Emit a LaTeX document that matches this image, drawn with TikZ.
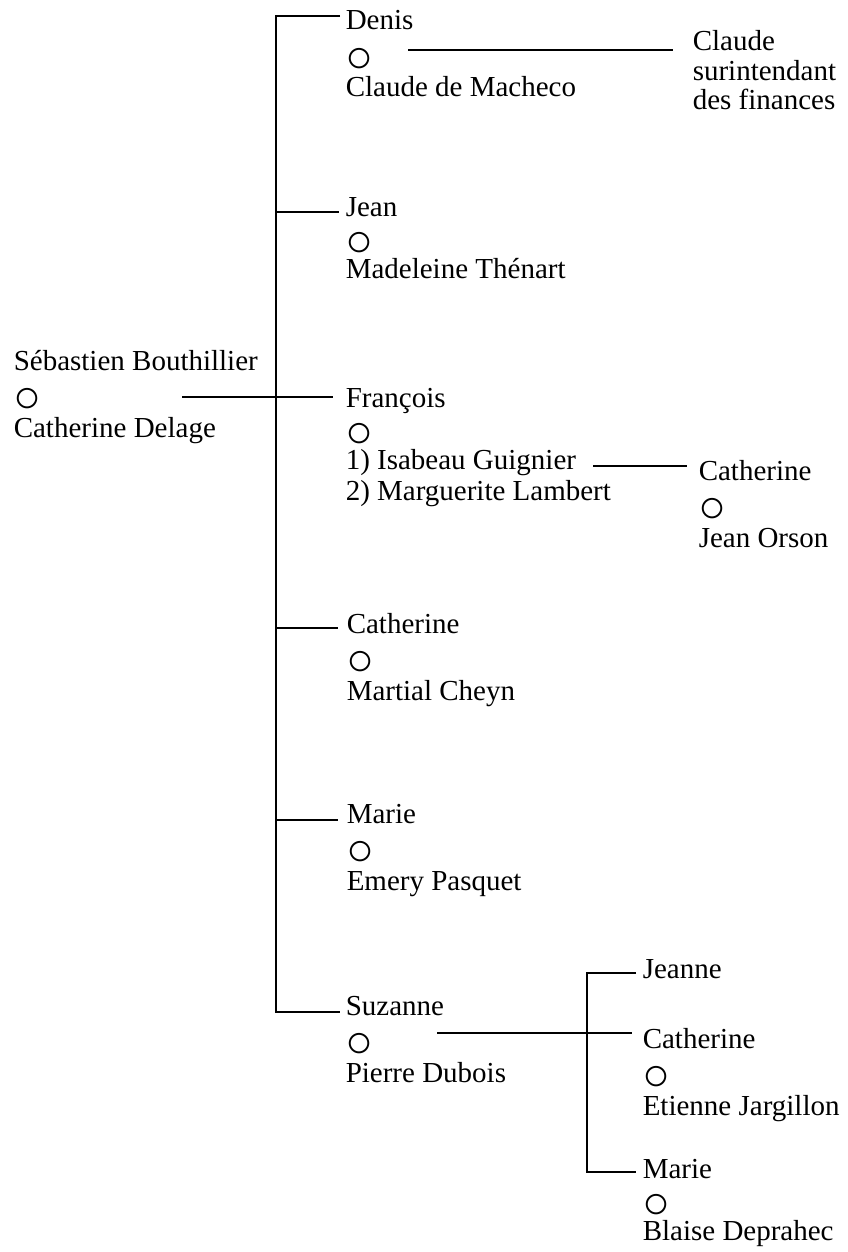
\documentclass[tikz,border=0pt]{standalone}
\usepackage{fontspec}
\setmainfont{Liberation Serif}
\newcommand{\ring}{\smash{\raisebox{-9pt}{\scalebox{1.6}{○}}}}

\begin{document}
\begin{tikzpicture}[x=1pt, y=-1pt,
				line width=1.5pt,
				person/.style={anchor=base west, inner sep=0pt, align=left,
					font=\fontsize{29}{33.5}\selectfont},
				tight/.style={font=\fontsize{29}{29.5}\selectfont},
				snug/.style={font=\fontsize{29}{31}\selectfont}]
				\useasboundingbox (0,0) rectangle (847,1252);
				% the parents (nodes sit on the baseline of their last line)
				\node at (13,437) (seb) [person] {Sébastien Bouthillier\\\ring\\Catherine Delage};
				% the children
				\node at (345,97) (denis) [person] {Denis\\\ring\\Claude de Macheco};
				\node at (345,278) (jean) [person, snug] {Jean\\\ring\\Madeleine Thénart};
				\node at (345,500) (franc) [person, snug] {François\\\ring\\1) Isabeau Guignier\\2) Marguerite Lambert};
				\node at (346,700) (cathM) [person] {Catherine\\\ring\\Martial Cheyn};
				\node at (346,890) (marieP) [person] {Marie\\\ring\\Emery Pasquet};
				\node at (345,1082) (suz) [person] {Suzanne\\\ring\\Pierre Dubois};
				% the grandchildren
				\node at (692,110) (claude) [person, tight] {Claude\\surintendant\\des finances};
				\node at (698,547) (cathO) [person] {Catherine\\\ring\\Jean Orson};
				\node at (642,978) (jeanne) [person] {Jeanne};
				\node at (642,1115) (cathJ) [person] {Catherine\\\ring\\Etienne Jargillon};
				\node at (642,1240) (marieD) [person, snug] {Marie\\\ring\\Blaise Deprahec};
				% where the lines meet the names
				\coordinate (trunk) at (276,0);
				\coordinate (subtrunk) at (587,0);
				\coordinate (denis-in) at ([shift={(-5pt,81pt)}]denis.base west);
				\coordinate (jean-in) at ([shift={(-6pt,66pt)}]jean.base west);
				\coordinate (franc-in) at ([shift={(-12pt,103pt)}]franc.base west);
				\coordinate (cathM-in) at ([shift={(-8pt,72pt)}]cathM.base west);
				\coordinate (marieP-in) at ([shift={(-8pt,70pt)}]marieP.base west);
				\coordinate (suz-in) at ([shift={(-5pt,70pt)}]suz.base west);
				\coordinate (seb-out) at ([shift={(169pt,40pt)}]seb.base west);
				\coordinate (denis-out) at ([shift={(63pt,47pt)}]denis.base west);
				\coordinate (franc-out) at ([shift={(248pt,34pt)}]franc.base west);
				\coordinate (suz-out) at ([shift={(92pt,46pt)}]suz.base west);
				\coordinate (claude-in) at ([shift={(-19pt,60pt)}]claude.base west);
				\coordinate (cathO-in) at ([shift={(-11pt,81pt)}]cathO.base west);
				\coordinate (jeanne-in) at ([shift={(-6pt,5pt)}]jeanne.base west);
				\coordinate (cathJ-in) at ([shift={(-10pt,82pt)}]cathJ.base west);
				\coordinate (marieD-in) at ([shift={(-6pt,68pt)}]marieD.base west);
				% lines
				\draw (denis-in) -- (denis-in -| trunk) -- (suz-in -| trunk) -- (suz-in);
				\draw (jean-in -| trunk) -- (jean-in);
				\draw (cathM-in -| trunk) -- (cathM-in);
				\draw (marieP-in -| trunk) -- (marieP-in);
				\draw (franc-in -| seb-out) -- (franc-in);
				\draw (claude-in -| denis-out) -- (claude-in);
				\draw (cathO-in -| franc-out) -- (cathO-in);
				\draw (cathJ-in -| suz-out) -- (cathJ-in);
				\draw (jeanne-in) -- (jeanne-in -| subtrunk) -- (marieD-in -| subtrunk) -- (marieD-in);
			\end{tikzpicture}
\end{document}
